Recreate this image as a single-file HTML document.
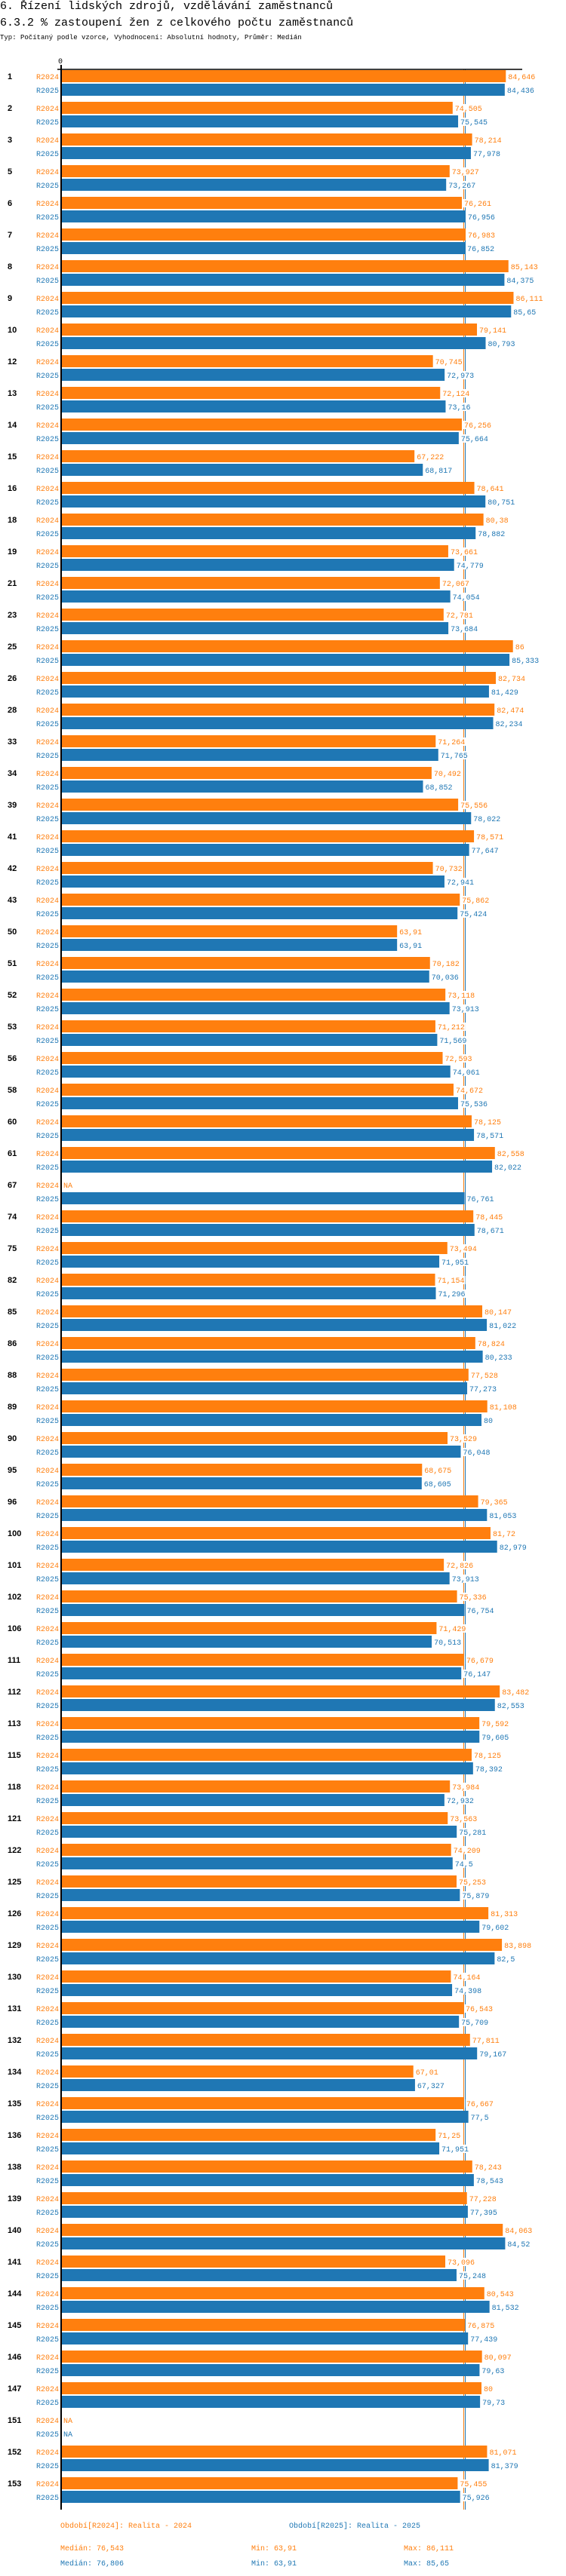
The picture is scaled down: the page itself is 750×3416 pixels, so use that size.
<!DOCTYPE html>
<html><head><meta charset="utf-8">
<style>
body{margin:0;background:#fff;width:750px;height:3416px;overflow:hidden;font-family:"Liberation Mono",monospace;}
.t{position:absolute;left:0;white-space:nowrap;color:#000;}
</style></head>
<body>
<div class="t" style="top:0px;font-size:15px;">6. Řízení lidských zdrojů, vzdělávání zaměstnanců</div>
<div class="t" style="top:22px;font-size:15px;">6.3.2 % zastoupení žen z celkového počtu zaměstnanců</div>
<div class="t" style="top:45px;font-size:9px;">Typ: Počítaný podle vzorce, Vyhodnocení: Absolutní hodnoty, Průměr: Medián</div>
<svg id="chart" width="750" height="3416" style="position:absolute;left:0;top:0" xmlns="http://www.w3.org/2000/svg"></svg>
<script>
const categories=["1","2","3","5","6","7","8","9","10","12","13","14","15","16","18","19","21","23","25","26","28","33","34","39","41","42","43","50","51","52","53","56","58","60","61","67","74","75","82","85","86","88","89","90","95","96","100","101","102","106","111","112","113","115","118","121","122","125","126","129","130","131","132","134","135","136","138","139","140","141","144","145","146","147","151","152","153"];
const values2024=[84.646,74.505,78.214,73.927,76.261,76.983,85.143,86.111,79.141,70.745,72.124,76.256,67.222,78.641,80.38,73.661,72.067,72.781,86,82.734,82.474,71.264,70.492,75.556,78.571,70.732,75.862,63.91,70.182,73.118,71.212,72.593,74.672,78.125,82.558,null,78.445,73.494,71.154,80.147,78.824,77.528,81.108,73.529,68.675,79.365,81.72,72.826,75.336,71.429,76.679,83.482,79.592,78.125,73.984,73.563,74.209,75.253,81.313,83.898,74.164,76.543,77.811,67.01,76.667,71.25,78.243,77.228,84.063,73.096,80.543,76.875,80.097,80,null,81.071,75.455];
const values2025=[84.436,75.545,77.978,73.267,76.956,76.852,84.375,85.65,80.793,72.973,73.16,75.664,68.817,80.751,78.882,74.779,74.054,73.684,85.333,81.429,82.234,71.765,68.852,78.022,77.647,72.941,75.424,63.91,70.036,73.913,71.569,74.061,75.536,78.571,82.022,76.761,78.671,71.951,71.296,81.022,80.233,77.273,80,76.048,68.605,81.053,82.979,73.913,76.754,70.513,76.147,82.553,79.605,78.392,72.932,75.281,74.5,75.879,79.602,82.5,74.398,75.709,79.167,67.327,77.5,71.951,78.543,77.395,84.52,75.248,81.532,77.439,79.63,79.73,null,81.379,75.926];
const seriesNames=["R2024","R2025"];
const medians=[76.543,76.806];
const mins=[63.91,63.91];
const maxs=[86.111,85.65];
const colors=["#ff7f0e","#1f77b4"];
const NS="http://www.w3.org/2000/svg";
const svg=document.getElementById('chart');
const X0=82,K=6.95,TOP=93,PITCH=42,BH=16;
function xs(v){return X0+K*v;}
function ys(i,s){return TOP+PITCH*i+s*18;}
function fmt(v){return String(v).replace('.',',');}
function mk(tag,attrs,txt){const e=document.createElementNS(NS,tag);for(const k in attrs)e.setAttribute(k,attrs[k]);if(txt!==undefined)e.textContent=txt;svg.appendChild(e);return e;}
const endY=ys(categories.length-1,1)+BH+9;
medians.forEach((m,s)=>{
  const x=Math.round(xs(m))+0.5;
  const l=mk('line',{x1:x,x2:x,y1:92,y2:endY,stroke:colors[s],'stroke-width':1});
  
  
});
const ax=mk('line',{x1:76,x2:692,y1:92,y2:92,stroke:'#000','stroke-width':1.5});


const ay=mk('line',{x1:81,x2:81,y1:86,y2:endY,stroke:'#000','stroke-width':2});


const t0=mk('text',{x:80,y:84,'font-size':10,'font-family':'Liberation Mono, monospace','text-anchor':'middle',fill:'#000'},'0');


const series=[values2024,values2025];
categories.forEach((c,i)=>{
  const g=mk('text',{x:10,y:ys(i,0)+12,'font-size':11,'font-weight':'bold','font-family':'Liberation Sans, sans-serif',fill:'#000'},c);
  
  
  series.forEach((vals,s)=>{
    const y=ys(i,s);
    const lab=mk('text',{x:78,y:y+12,'font-size':10,'font-family':'Liberation Mono, monospace','text-anchor':'end',fill:colors[s]},seriesNames[s]);
    
    
    const v=vals[i];
    let vx=84;
    if(v!==null){
      const r=mk('rect',{x:X0,y:y,width:xs(v)-X0,height:BH,fill:colors[s]});
      
      
      vx=xs(v)+3;
    }
    const txt=v===null?'NA':fmt(v);
    const w=txt.length*6+2;
    const bg=mk('rect',{x:vx-1,y:y+3,width:w,height:11,fill:'#fff'});
    
    
    const vl=mk('text',{x:vx,y:y+12,'font-size':10,'font-family':'Liberation Mono, monospace',fill:colors[s]},txt);
    
    
  });
});
const legY=3352;
[[80,'Období[R2024]: Realita - 2024'],[383,'Období[R2025]: Realita - 2025']].forEach((a,s)=>{
  const e=mk('text',{x:a[0],y:legY,'font-size':10,'font-family':'Liberation Mono, monospace',fill:colors[s]},a[1]);
  
  
});
[0,1].forEach(s=>{
  const y=3382+s*20;
  const a=mk('text',{x:80,y:y,'font-size':10,'font-family':'Liberation Mono, monospace',fill:colors[s]},'Medián: '+fmt(medians[s]));
  
  
  const b=mk('text',{x:333,y:y,'font-size':10,'font-family':'Liberation Mono, monospace',fill:colors[s]},'Min: '+fmt(mins[s]));
  
  
  const d=mk('text',{x:535,y:y,'font-size':10,'font-family':'Liberation Mono, monospace',fill:colors[s]},'Max: '+fmt(maxs[s]));
  
  
});
</script>
</body></html>
